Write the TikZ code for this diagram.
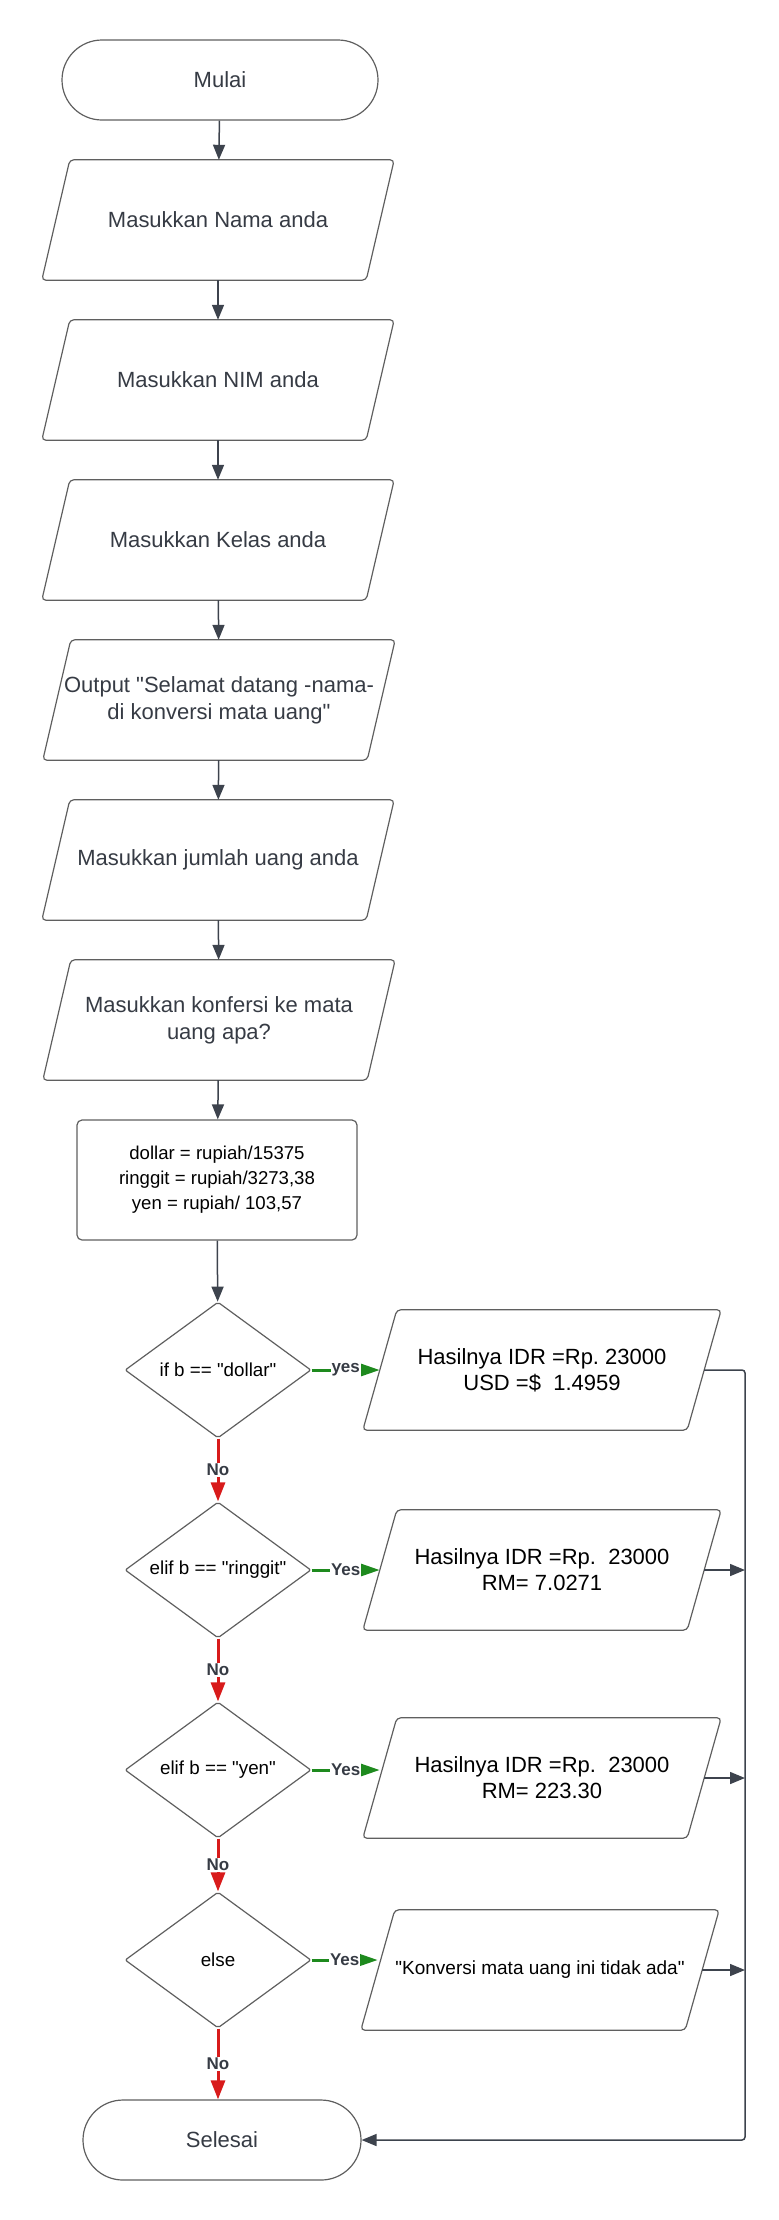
\documentclass[tikz,border=0pt]{standalone}
\usepackage{fontspec}
\setmainfont{Liberation Sans}[Ligatures=TeXOff]
\usetikzlibrary{shapes.geometric,shapes.misc,arrows.meta}
\definecolor{garis}{HTML}{5F5F5F}
\definecolor{teks}{HTML}{363B44}
\definecolor{gelap}{HTML}{3D434D}
\definecolor{hijau}{HTML}{1E8A1E}
\definecolor{merah}{HTML}{D81B1B}
\frenchspacing
\tikzset{
  base/.style={draw=garis, line width=1.2pt, align=center, inner sep=2pt},
  bingkai/.style={draw=garis, line width=1.2pt, rounded corners=4pt},
  ujung/.style={base, rounded rectangle, minimum width=320pt, minimum height=80pt, text=teks, font=\fontsize{22}{27}\selectfont},
  masukan/.style={align=center, inner sep=0pt, minimum width=324pt, minimum height=120pt, text=teks, font=\fontsize{22}{27}\selectfont},
  proses/.style={base, rectangle, rounded corners=5pt, minimum width=280pt, minimum height=120pt, font=\fontsize{18.6}{25}\selectfont},
  cek/.style={base, diamond, shape aspect=1.37, inner sep=1pt, minimum width=186pt, minimum height=136pt, rounded corners=2pt, font=\fontsize{18.8}{22}\selectfont},
  hasil/.style={align=center, inner sep=0pt, minimum width=324pt, minimum height=120pt, font=\fontsize{22}{26}\selectfont},
  panah/.style={draw=gelap, line width=1.5pt, -{Triangle[length=15pt,width=12pt]}},
  ya/.style={draw=hijau, line width=3pt, -{Triangle[length=19pt,width=12pt,fill=hijau]}},
  tidak/.style={draw=merah, line width=3pt, -{Triangle[length=19pt,width=14pt,fill=merah]}},
  lbl/.style={fill=white, inner sep=1pt, text=teks, font=\bfseries\fontsize{17}{17}\selectfont},
}
\begin{document}
\begin{tikzpicture}[x=1pt,y=-1pt]
\useasboundingbox (0,0) rectangle (779,2220);
\node[ujung] (mulai) at (220,80) {Mulai};
\node[masukan] (nama) at (218,220) {Masukkan Nama anda};
\node[masukan] (nim) at (218,380) {Masukkan NIM anda};
\node[masukan] (kelas) at (218,540) {Masukkan Kelas anda};
\node[masukan] (sapa) at (219,700) {Output "Selamat datang -nama-\\di konversi mata uang"};
\node[masukan] (jumlah) at (218,860) {Masukkan jumlah uang anda};
\node[masukan] (konfersi) at (219,1020) {Masukkan konfersi ke mata\\uang apa?};
\node[proses] (hitung) at (217,1180) {dollar = rupiah/15375\\ringgit = rupiah/3273,38\\yen = rupiah/ 103,57};
\node[cek] (dolar) at (218,1370) {if b == "dollar"};
\node[cek] (ringgit) at (218,1570) {elif b == "ringgit"};
\node[cek] (yen) at (218,1770) {elif b == "yen"};
\node[cek] (lain) at (218,1960) {else};
\node[ujung, minimum width=282pt] (selesai) at (222,2140) {Selesai};
\node[hasil] (hasil1) at (542,1370) {Hasilnya IDR =Rp. 23000\\USD =\$\ \ 1.4959};
\node[hasil] (hasil2) at (542,1570) {Hasilnya IDR =Rp.\ \ 23000\\RM= 7.0271};
\node[hasil] (hasil3) at (542,1778) {Hasilnya IDR =Rp.\ \ 23000\\RM= 223.30};
\node[hasil, font=\fontsize{19}{22}\selectfont] (hasil4) at (540,1970) {"Konversi mata uang ini tidak ada"};
\foreach \n in {nama,nim,kelas,sapa,jumlah,konfersi}
  \draw[bingkai] ([xshift=-14pt]\n.south west) -- ([xshift=14pt]\n.north west) -- ([xshift=14pt]\n.north east) -- ([xshift=-14pt]\n.south east) -- cycle;
\foreach \n in {hasil1,hasil2,hasil3,hasil4}
  \draw[bingkai] ([xshift=-17pt]\n.south west) -- ([xshift=17pt]\n.north west) -- ([xshift=17pt]\n.north east) -- ([xshift=-17pt]\n.south east) -- cycle;
\coordinate (kanan) at (745,2140);
\foreach \a/\b in {mulai/nama, nama/nim, nim/kelas, kelas/sapa, sapa/jumlah, jumlah/konfersi, konfersi/hitung, hitung/dolar}
  \draw[panah] (\a) -- (\b);
\draw[ya] (dolar.east) -- node[lbl] {yes} (dolar.east -| hasil1.west);
\draw[ya] (ringgit.east) -- node[lbl] {Yes} (ringgit.east -| hasil2.west);
\draw[ya] (yen.east) -- node[lbl] {Yes} (yen.east -| hasil3.west);
\draw[ya] (lain.east) -- node[lbl] {Yes} (lain.east -| hasil4.west);
\draw[tidak] (dolar.south) -- node[lbl] {No} (ringgit.north);
\draw[tidak] (ringgit.south) -- node[lbl] {No} (yen.north);
\draw[tidak] (yen.south) -- node[lbl] {No} (lain.north);
\draw[tidak] (lain.south) -- node[lbl] {No} (lain.south |- selesai.north);
\draw[panah, rounded corners=3pt] (hasil1.east) -| (kanan) -- (selesai.east);
\draw[panah] (hasil2.east) -- (hasil2.east -| kanan);
\draw[panah] (hasil3.east) -- (hasil3.east -| kanan);
\draw[panah] (hasil4.east) -- (hasil4.east -| kanan);
\end{tikzpicture}
\end{document}
